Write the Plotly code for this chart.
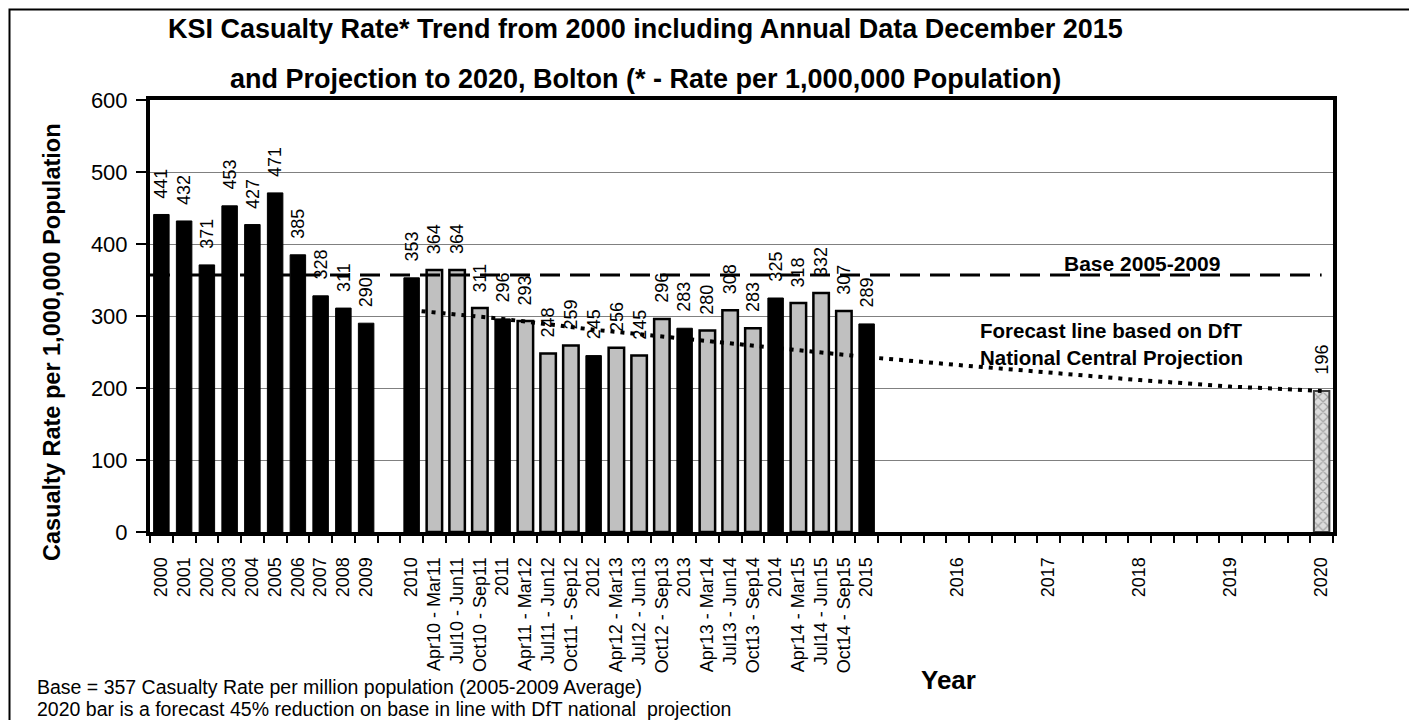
import plotly.graph_objects as go

# ---------------- data ----------------
categories = [
    "2000", "2001", "2002", "2003", "2004", "2005", "2006", "2007", "2008", "2009",
    "",
    "2010", "Apr10 - Mar11", "Jul10 - Jun11", "Oct10 - Sep11",
    "2011", "Apr11 - Mar12", "Jul11 - Jun12", "Oct11 - Sep12",
    "2012", "Apr12 - Mar13", "Jul12 - Jun13", "Oct12 - Sep13",
    "2013", "Apr13 - Mar14", "Jul13 - Jun14", "Oct13 - Sep14",
    "2014", "Apr14 - Mar15", "Jul14 - Jun15", "Oct14 - Sep15",
    "2015", "", "", "", "2016", "", "", "", "2017", "", "", "", "2018",
    "", "", "", "2019", "", "", "", "2020",
]
rates = [
    441, 432, 371, 453, 427, 471, 385, 328, 311, 290,
    None,
    353, 364, 364, 311,
    296, 293, 248, 259,
    245, 256, 245, 296,
    283, 280, 308, 283,
    325, 318, 332, 307,
    289, None, None, None, None, None, None, None, None, None, None, None, None,
    None, None, None, None, None, None, None, 196,
]
forecast_years = ["2010", "2011", "2012", "2013", "2014", "2015",
                  "2016", "2017", "2018", "2019", "2020"]
forecast_rates = [308, 296, 281, 268, 255, 243, 232, 221, 211, 202, 196]
base_rate = 357
y_ticks = [0, 100, 200, 300, 400, 500, 600]

title_lines = [
    "KSI Casualty Rate* Trend from 2000 including Annual Data December 2015",
    "and Projection to 2020, Bolton (* - Rate per 1,000,000 Population)",
]
footnotes = [
    "Base = 357 Casualty Rate per million population (2005-2009 Average)",
    "2020 bar is a forecast 45% reduction on base in line with DfT national  projection",
]

# ---------------- layout helpers ----------------
FONT = "Liberation Sans, Arial, sans-serif"
OFF = 8                      # page body margin of the browser
W, H = 1417 - OFF, 720 - OFF
ML, MR, MT, MB = 150 - OFF, 84, 100 - OFF, 188
PW, PH = W - ML - MR, H - MT - MB
X0, Y0 = 150, 532            # screen position of plot origin (left, bottom)


def px_x(px):
    return (px - X0) / PW


def px_y(py):
    return (Y0 - py) / PH


slots = list(range(len(categories)))

annual_x, annual_y, roll_x, roll_y, fc_x, fc_y = [], [], [], [], [], []
for i, (lab, v) in enumerate(zip(categories, rates)):
    if v is None:
        continue
    if " - " in lab:
        roll_x.append(i); roll_y.append(v)
    elif lab == "2020":
        fc_x.append(i); fc_y.append(v)
    else:
        annual_x.append(i); annual_y.append(v)

fig = go.Figure()

# base line (behind the bars)
fig.add_trace(go.Scatter(
    x=[slots[0] - 0.5, slots[-1]], y=[base_rate, base_rate], mode="lines",
    line=dict(color="black", width=3, dash="20px,10px"),
    hoverinfo="skip", showlegend=False))

BW = 0.68
fig.add_trace(go.Bar(x=annual_x, y=annual_y, width=BW,
                     marker=dict(color="black", line=dict(color="black", width=1)),
                     showlegend=False))
fig.add_trace(go.Bar(x=roll_x, y=roll_y, width=BW,
                     marker=dict(color="#c0c0c0", line=dict(color="black", width=2.5)),
                     showlegend=False))
fig.add_trace(go.Bar(x=fc_x, y=fc_y, width=BW,
                     marker=dict(color="#d9d9d9", line=dict(color="#404040", width=2),
                                 pattern=dict(shape="x", fgcolor="#6e6e6e",
                                              bgcolor="#dcdcdc", size=7, solidity=0.35)),
                     showlegend=False))

# forecast dotted line
fig.add_trace(go.Scatter(
    x=[categories.index(y) for y in forecast_years], y=forecast_rates, mode="lines",
    line=dict(color="black", width=4, dash="4px,6px"),
    hoverinfo="skip", showlegend=False))

annotations = []
for i, v in zip(annual_x + roll_x + fc_x, annual_y + roll_y + fc_y):
    annotations.append(dict(x=i, y=v, xref="x", yref="y", text=str(v), showarrow=False,
                            textangle=-90, yanchor="bottom", xanchor="center", yshift=14,
                            font=dict(family=FONT, size=18, color="black")))

# title lines
for txt, cy in zip(title_lines, [29, 79]):
    annotations.append(dict(xref="paper", yref="paper", x=px_x(645), y=px_y(cy),
                            xanchor="center", yanchor="middle", showarrow=False,
                            text="<b>%s</b>" % txt,
                            font=dict(family=FONT, size=27, color="black")))
# footnotes
for txt, cy in zip(footnotes, [687, 709]):
    annotations.append(dict(xref="paper", yref="paper", x=px_x(35), y=px_y(cy),
                            xanchor="left", yanchor="middle", showarrow=False, text=txt,
                            font=dict(family=FONT, size=19.5, color="black")))
# y axis title
annotations.append(dict(xref="paper", yref="paper", x=px_x(52), y=px_y(342),
                        xanchor="center", yanchor="middle", textangle=-90, showarrow=False,
                        text="<b>Casualty Rate per 1,000,000 Population</b>",
                        font=dict(family=FONT, size=23.5, color="black")))
# x axis title
annotations.append(dict(xref="paper", yref="paper", x=px_x(948), y=px_y(680),
                        xanchor="center", yanchor="middle", showarrow=False,
                        text="<b>Year</b>", font=dict(family=FONT, size=26, color="black")))
# base label
annotations.append(dict(xref="paper", yref="y", x=px_x(1142), y=base_rate, yshift=11,
                        xanchor="center", yanchor="middle", showarrow=False,
                        text="<b>Base 2005-2009</b>",
                        font=dict(family=FONT, size=21, color="black")))
# forecast label
annotations.append(dict(xref="paper", yref="paper", x=px_x(978), y=px_y(344),
                        xanchor="left", yanchor="middle", align="left", showarrow=False,
                        text="<b>Forecast line based on DfT<br>National Central Projection</b>",
                        font=dict(family=FONT, size=20.5, color="black")))

label_vals = [i for i, c in enumerate(categories) if c]
label_text = [c for c in categories if c]

fig.update_layout(
    width=W, height=H,
    margin=dict(l=ML, r=MR, t=MT, b=MB, autoexpand=False),
    paper_bgcolor="white", plot_bgcolor="white",
    barmode="overlay",
    annotations=annotations,
    shapes=[dict(type="rect", xref="paper", yref="paper",
                 x0=px_x(OFF + 1.5), x1=px_x(1410), y0=px_y(722), y1=px_y(OFF + 1.5),
                 line=dict(color="black", width=2), layer="above")],
    xaxis=dict(range=[slots[0] - 0.5, slots[-1] + 0.5], tickmode="array",
               tickvals=label_vals, ticktext=label_text, tickangle=-90, ticks="",
               ticklabelstandoff=14,
               tickfont=dict(family=FONT, size=18, color="black"),
               showgrid=False, zeroline=False, showline=True, linewidth=4,
               linecolor="black", mirror=True,
               minor=dict(tickmode="linear", tick0=-0.5, dtick=1, ticks="outside",
                          ticklen=7, tickwidth=2, tickcolor="black", showgrid=False)),
    yaxis=dict(range=[0, 600], tickmode="array", tickvals=y_ticks, ticks="outside",
               ticklen=10, tickwidth=2, tickcolor="black",
               tickfont=dict(family=FONT, size=22, color="black"), ticklabelstandoff=4,
               showgrid=True, gridcolor="#808080", gridwidth=1, zeroline=False,
               showline=True, linewidth=4, linecolor="black", mirror=True),
)

fig.write_html("out.html")
